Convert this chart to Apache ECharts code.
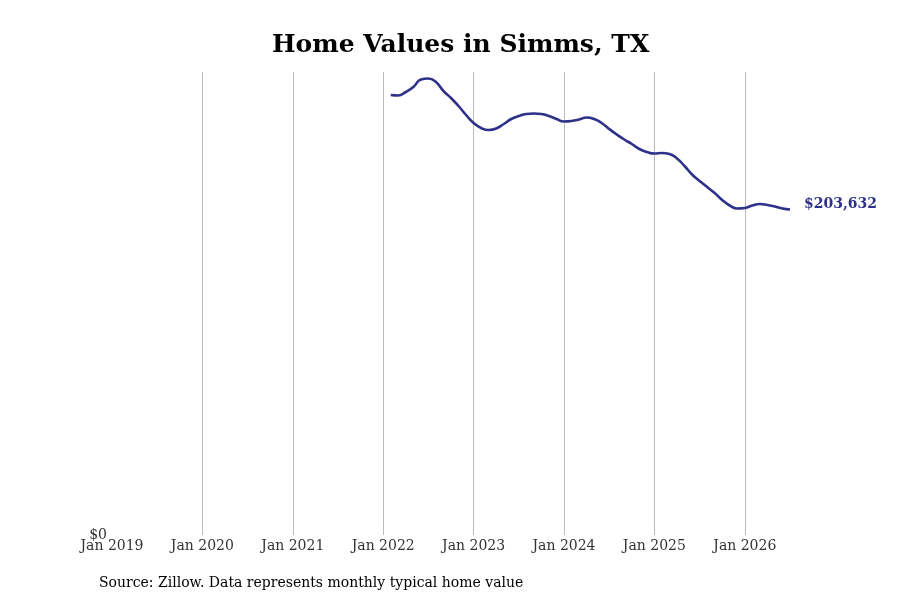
<!DOCTYPE html>
<html>
<head>
<meta charset="utf-8">
<script src="https://cdn.jsdelivr.net/npm/echarts@6/dist/echarts.min.js"></script>
<style>
  html, body { margin: 0; padding: 0; background: #fff; }
  #chartmain { width: 900px; height: 600px; }
</style>
</head>
<body>
<div id="chartmain"></div>
<script>
// monthly typical home value, Feb 2022 - Jul 2026
var months = [
  '2022-02','2022-03','2022-04','2022-05','2022-06','2022-07','2022-08','2022-09','2022-10','2022-11','2022-12',
  '2023-01','2023-02','2023-03','2023-04','2023-05','2023-06','2023-07','2023-08','2023-09','2023-10','2023-11','2023-12',
  '2024-01','2024-02','2024-03','2024-04','2024-05','2024-06','2024-07','2024-08','2024-09','2024-10','2024-11','2024-12',
  '2025-01','2025-02','2025-03','2025-04','2025-05','2025-06','2025-07','2025-08','2025-09','2025-10','2025-11','2025-12',
  '2026-01','2026-02','2026-03','2026-04','2026-05','2026-06','2026-07'
];
var values = [
  275264, 274951, 277141, 280269, 284961, 285586, 283397, 277766, 273387, 268382, 262752,
  257747, 254619, 253368, 254306, 257122, 260250, 262126, 263378, 263690, 263378, 262126, 260250,
  258686, 258998, 259937, 261188, 260250, 257747, 253994, 250553, 247425, 244610, 241482, 239605,
  238666, 238979, 238354, 235538, 230846, 225529, 221462, 217709, 213955, 209576, 206135, 204258,
  204571, 206135, 207074, 206448, 205510, 204258, 203632
];
var startYear = 2019;
var endMonth = 90;      // Jul 2026, months after Jan 2019
var yMax = 289650;

var font = 'DejaVu Serif';
var lineColor = '#2e3189';

// month index counted from Jan 2019
function monthIndex(s){
  var p = s.split('-');
  return (parseInt(p[0]) - startYear) * 12 + parseInt(p[1]) - 1;
}
var seriesData = months.map(function(m, i){ return [monthIndex(m), values[i]]; });

var myChart = echarts.init(document.getElementById('chartmain'));
myChart.setOption({
  animation: false,
  title: {
    text: 'Home Values in Simms, TX',
    left: 267,
    top: 28,
    textStyle: { fontFamily: font, fontWeight: 'bold', fontSize: 25, color: '#000' }
  },
  graphic: [{
    type: 'text',
    left: 99,
    top: 576,
    style: {
      text: 'Source: Zillow. Data represents monthly typical home value',
      fontFamily: font, fontSize: 14, fill: '#000'
    }
  }],
  grid: { left: 112, right: 110, top: 72, bottom: 65, containLabel: false },
  xAxis: {
    type: 'value',
    min: 0,
    max: endMonth,
    interval: 12,
    axisLine: { show: false },
    axisTick: { show: false },
    splitLine: { show: true, showMinLine: false, showMaxLine: false, lineStyle: { color: '#bbbbbb', width: 1 } },
    axisLabel: {
      fontFamily: font, fontSize: 14, color: '#333', margin: 4,
      showMaxLabel: false,
      formatter: function(v){ return v % 12 === 0 ? 'Jan ' + (startYear + v / 12) : ''; }
    }
  },
  yAxis: {
    type: 'value',
    min: 0,
    max: yMax,
    interval: yMax,
    axisLine: { show: false },
    axisTick: { show: false },
    splitLine: { show: false },
    axisLabel: {
      fontFamily: font, fontSize: 14, color: '#333', margin: 5,
      formatter: function(v){ return v === 0 ? '$0' : ''; }
    }
  },
  series: [{
    type: 'line',
    data: seriesData,
    smooth: true,
    showSymbol: false,
    lineStyle: { color: lineColor, width: 2.6 },
    endLabel: {
      show: true,
      distance: 14,
      offset: [0, -5],
      fontFamily: font, fontWeight: 'bold', fontSize: 14, color: lineColor,
      formatter: function(p){ return '$' + p.value[1].toLocaleString('en-US'); }
    }
  }]
});
</script>
</body>
</html>
